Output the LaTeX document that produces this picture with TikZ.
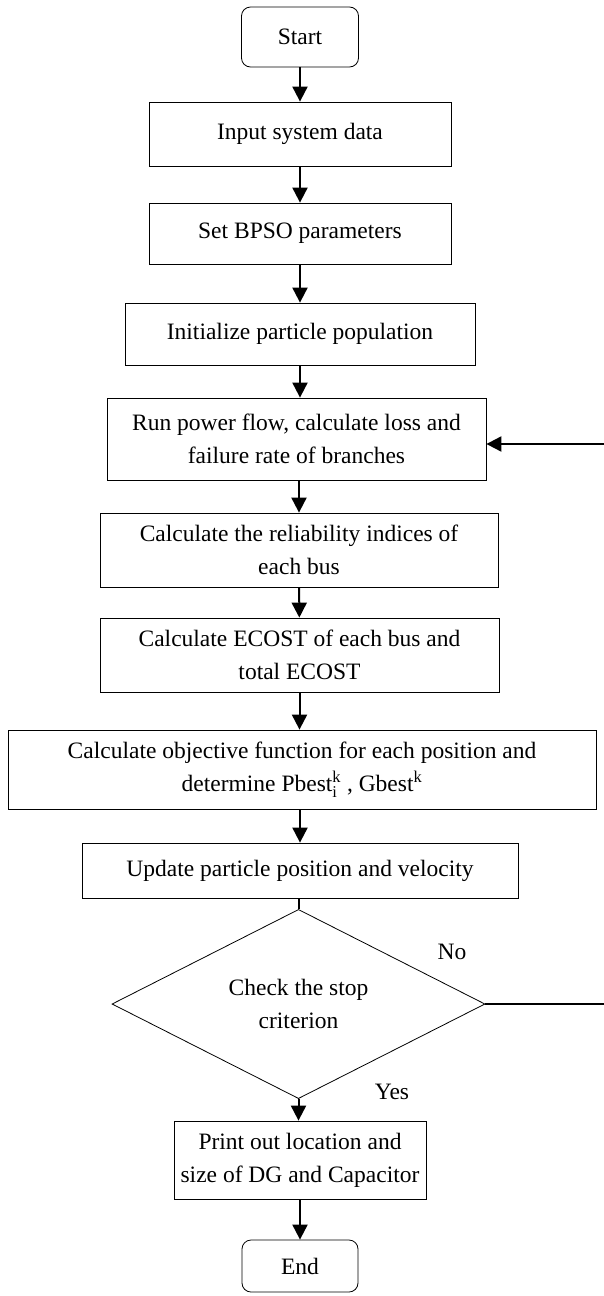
\documentclass[tikz,border=0pt]{standalone}
\usepackage{fontspec}
\setmainfont{Liberation Serif}
\usepackage{tikz}
\usetikzlibrary{shapes.geometric}
\usetikzlibrary{arrows.meta}
\tikzset{
	term node/.style={rectangle,rounded corners=9pt,draw,line width=0.8pt,align=center},
	proc node/.style={rectangle,draw,line width=0.8pt,align=center,inner sep=0pt},
	dec node/.style={diamond,draw,line width=0.8pt,align=center,inner sep=0pt},
	flow/.style={line width=2pt,-{Triangle[width=15pt,length=15pt]}}
}

\begin{document}
\begin{tikzpicture}[x=1pt,y=1pt,
		    every node/.style={font=\fontsize{23.5}{33}\selectfont}]
		    \useasboundingbox (0,0) rectangle (604,-1296);
		    \node [term node,minimum width=117pt,minimum height=60pt] (start) at (300,-37) {Start};
		    \node [proc node,minimum width=302pt,minimum height=64pt] (input) at (300,-134) {Input system data};
		    \node [proc node,minimum width=302pt,minimum height=61pt] (param) at (300,-233.5) {Set BPSO parameters};
		    \node [proc node,minimum width=350pt,minimum height=62pt] (init) at (300,-334) {Initialize particle population};
		    \node [proc node,minimum width=379pt,minimum height=82pt] (run) at (296.5,-439) {Run power flow, calculate loss and\\failure rate of branches};
		    \node [proc node,minimum width=398pt,minimum height=74pt] (rel) at (299,-550) {Calculate the reliability indices of\\each bus};
		    \node [proc node,minimum width=399pt,minimum height=74pt] (ecost) at (299.5,-655) {Calculate ECOST of each bus and\\total ECOST};
		    \node [proc node,minimum width=588pt,minimum height=79pt] (obj) at (302,-769.5) {Calculate objective function for each position and\\determine Pbest$_{\mathrm{i}}^{\mathrm{k}}$ , Gbest$^{\mathrm{k}}$};
		    \node [proc node,minimum width=436pt,minimum height=55pt] (upd) at (300,-870.5) {Update particle position and velocity};
		    \node [dec node,minimum width=373pt,minimum height=142pt] (chk) at (298.5,-1004) {Check the stop\\criterion};
		    \node [proc node,minimum width=252pt,minimum height=78pt] (prt) at (300,-1160) {Print out location and\\size of DG and Capacitor};
		    \node [term node,minimum width=116pt,minimum height=52pt] (end) at (300,-1266) {End};
		    % labels of the decision
		    \node (no) at (452,-952) {No};
		    \node (yes) at (392,-1092) {Yes};
		    % return line, its vertical part lies past the right edge
		    \coordinate (back) at (610,-1004);
		    \draw [flow] (start) -- (input);
		    \draw [flow] (input) -- (param);
		    \draw [flow] (param) -- (init);
		    \draw [flow] (init) -- (init.south |- run.north);
		    \draw [flow] (run.south -| rel.north) -- (rel);
		    \draw [flow] (rel) -- (ecost);
		    \draw [flow] (ecost) -- (ecost.south |- obj.north);
		    \draw [flow] (upd.north |- obj.south) -- (upd);
		    \draw [line width=2pt] (upd.south -| chk.north) -- (chk.north);
		    \draw [flow] (chk.south) -- (chk.south |- prt.north);
		    \draw [flow] (prt) -- (end);
		    \draw [flow] (chk.east) -- (back) |- ([yshift=-5pt]run.east);
		  \end{tikzpicture}
\end{document}
